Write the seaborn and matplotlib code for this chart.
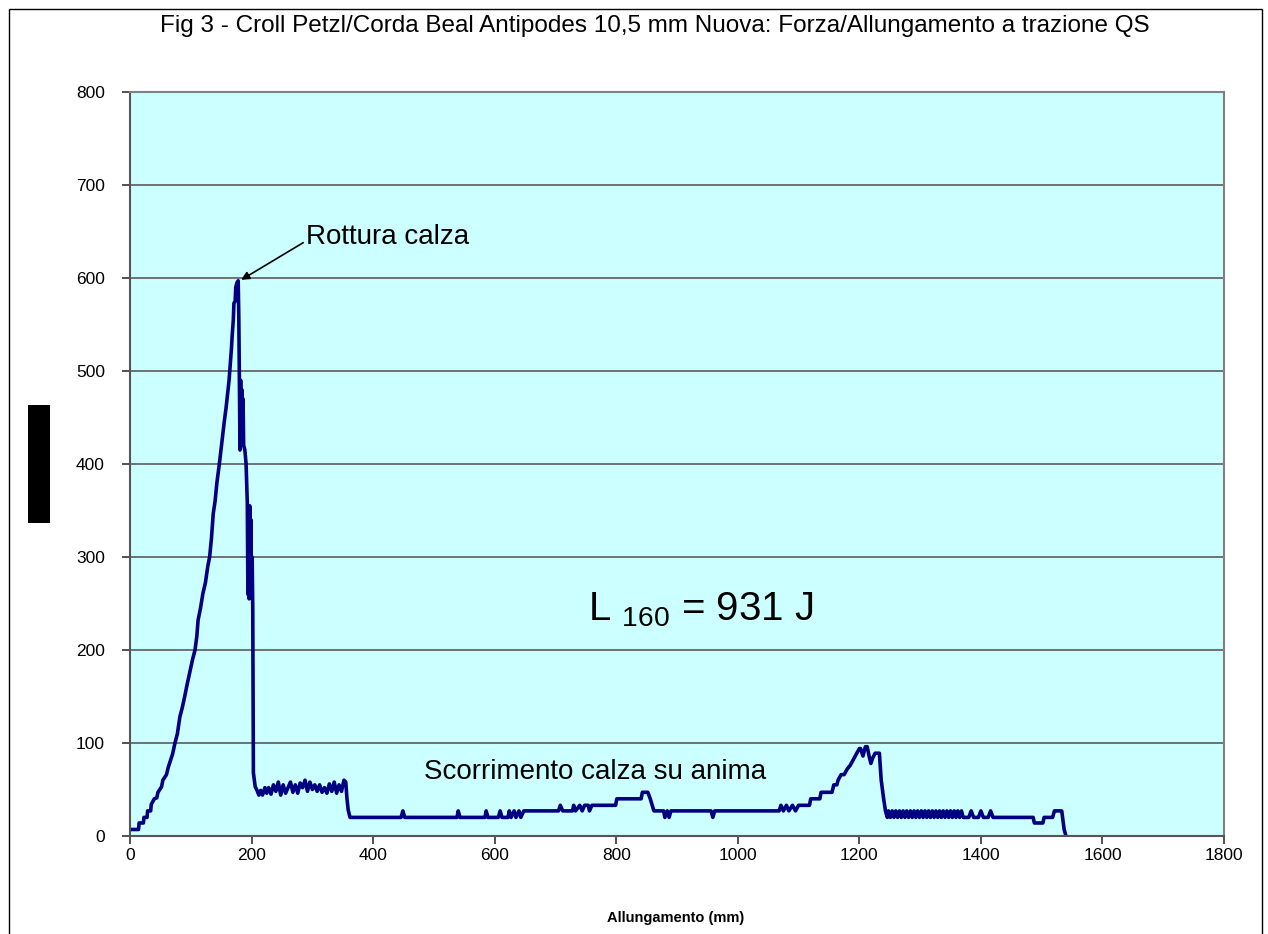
import matplotlib
matplotlib.use("Agg")
import matplotlib.pyplot as plt
import seaborn as sns
import pandas as pd
from matplotlib.patches import Rectangle

# ---- data: (allungamento mm, forza daN) ----
salita = [
    (0, 7), (14, 7), (15, 14), (22, 14), (23, 20), (28, 20), (29, 27), (34, 27), (35, 34),
    (40, 40), (44, 41), (46, 47), (52, 53), (54, 60), (60, 66), (63, 74), (66, 80),
    (70, 88), (74, 100), (78, 110), (82, 128), (86, 138), (90, 150), (94, 163), (99, 178),
    (103, 190), (107, 200), (110, 215), (112, 232), (116, 245), (120, 261), (124, 272),
    (128, 290), (131, 300), (134, 320), (137, 347), (140, 360), (143, 380), (147, 400),
    (151, 423), (155, 445), (158, 460), (160, 472), (163, 490), (165, 508), (167, 525),
    (168, 537), (170, 555), (171, 573), (173, 575), (174, 590), (176, 595), (178, 597),
]
caduta = [
    (179, 560), (180, 490), (181, 415), (182, 490), (183, 420), (184, 480), (185, 430),
    (186, 470), (187, 420), (189, 415), (191, 400), (193, 358), (194, 260), (195, 340),
    (196, 255), (197, 355), (198, 270), (199, 340), (200, 256), (201, 300), (202, 243),
    (203, 68), (206, 53),
]
attrito_1 = [
    (209, 49), (212, 44), (215, 49), (218, 44), (222, 52), (225, 46), (228, 52), (232, 45),
    (236, 55), (240, 48), (244, 58), (248, 44), (252, 55), (256, 46), (260, 52), (264, 58),
    (268, 47), (272, 55), (276, 46), (280, 57), (284, 52), (288, 60), (292, 48), (296, 58),
    (300, 50), (304, 55), (308, 48), (312, 55), (316, 47), (320, 52), (324, 46), (328, 56),
    (332, 48), (336, 58), (340, 46), (344, 55), (348, 48), (352, 60), (355, 58), (357, 40),
    (359, 28), (362, 20),
]
scorrimento = [
    (446, 20), (449, 27), (452, 20), (538, 20), (540, 27), (543, 20), (584, 20), (586, 27),
    (589, 20), (606, 20), (609, 27), (612, 20), (622, 20), (624, 27), (627, 20), (632, 27),
    (635, 20), (640, 27), (643, 20), (648, 27), (705, 27), (708, 33), (712, 27), (728, 27),
    (730, 33), (733, 27), (740, 33), (744, 27), (748, 33), (754, 33), (756, 27), (760, 33),
    (799, 33), (801, 40), (841, 40), (843, 47), (852, 47), (856, 40), (862, 27), (878, 27),
    (880, 20), (884, 27), (887, 20), (890, 27), (956, 27), (959, 20), (962, 27), (1068, 27),
    (1071, 33), (1075, 27), (1080, 33), (1084, 27), (1090, 33), (1095, 27), (1100, 33),
    (1118, 33), (1120, 40), (1135, 40), (1137, 47), (1155, 47), (1158, 55), (1163, 55),
    (1165, 60),
]
picco_finale = [
    (1170, 66), (1175, 66), (1180, 72), (1185, 76), (1190, 82), (1195, 88), (1200, 94),
    (1202, 94), (1206, 86), (1210, 96), (1213, 96), (1216, 86), (1219, 78), (1222, 84),
    (1226, 89), (1230, 89), (1233, 89), (1236, 60), (1240, 40), (1243, 27),
]
coda = [
    (1246, 20), (1248, 27), (1251, 20), (1254, 27), (1257, 20), (1260, 27), (1263, 20),
    (1266, 27), (1269, 20), (1272, 27), (1275, 20), (1278, 27), (1281, 20), (1284, 27),
    (1287, 20), (1290, 27), (1293, 20), (1296, 27), (1299, 20), (1302, 27), (1305, 20),
    (1308, 27), (1311, 20), (1314, 27), (1317, 20), (1320, 27), (1323, 20), (1326, 27),
    (1329, 20), (1332, 27), (1335, 20), (1338, 27), (1341, 20), (1344, 27), (1347, 20),
    (1350, 27), (1353, 20), (1356, 27), (1359, 20), (1362, 27), (1365, 20), (1368, 27),
    (1371, 20), (1380, 20), (1384, 27), (1388, 20), (1396, 20), (1400, 27), (1404, 20),
    (1412, 20), (1416, 27), (1420, 20),
    (1486, 20), (1488, 14), (1502, 14), (1504, 20), (1518, 20), (1521, 27), (1533, 27),
    (1537, 7), (1540, 0),
]

x_ticks = [0, 200, 400, 600, 800, 1000, 1200, 1400, 1600, 1800]
y_ticks = [0, 100, 200, 300, 400, 500, 600, 700, 800]

titolo = "Fig 3 - Croll Petzl/Corda Beal Antipodes 10,5 mm Nuova: Forza/Allungamento a trazione QS"
x_label = "Allungamento (mm)"
y_label = "Forza (daN)"
nota_picco = "Rottura calza"
nota_scorrimento = "Scorrimento calza su anima"
nota_energia = r"L $_{\mathregular{160}}$ = 931 J"

punti = salita + caduta + attrito_1 + scorrimento + picco_finale + coda
df = pd.DataFrame(punti, columns=["x", "y"])

sns.set_theme(style="white")
plt.rcParams["font.family"] = ["Liberation Sans", "DejaVu Sans"]
plt.rcParams["mathtext.fontset"] = "custom"
plt.rcParams["mathtext.rm"] = "Liberation Sans"

W, H = 1268, 934
fig = plt.figure(figsize=(W / 100, H / 100), dpi=100)
fig.patch.set_facecolor("white")

# outer chart border
fig.patches.append(Rectangle((9 / W, -0.02), (1262 - 9) / W, 1 - 9 / H + 0.02,
                             transform=fig.transFigure, fill=False,
                             edgecolor="black", linewidth=1.0))

L, R, T, B = 130, 1224, 92, 836
ax = fig.add_axes([L / W, 1 - B / H, (R - L) / W, (B - T) / H])
ax.set_facecolor("#CCFFFF")

sns.lineplot(data=df, x="x", y="y", ax=ax, sort=False, estimator=None,
             color="#000080", linewidth=2.6)

ax.set_xlim(0, 1800)
ax.set_ylim(0, 800)
ax.set_xticks(x_ticks)
ax.set_yticks(y_ticks)
ax.grid(axis="y", color="#6E7373", linewidth=1.4)
ax.grid(axis="x", visible=False)
ax.set_axisbelow(True)
for s in ax.spines.values():
    s.set_color("#808080")
    s.set_linewidth(1.5)
ax.spines["left"].set_color("#555555")
ax.spines["bottom"].set_color("#555555")
ax.tick_params(axis="both", which="major", direction="out", length=6, width=1.2,
               color="#333333", labelsize=12.5, labelcolor="black",
               left=True, bottom=True)
ax.tick_params(axis="y", pad=12)
ax.tick_params(axis="x", pad=3)
ax.set_xlabel("")
ax.set_ylabel("")

fig.text(655 / W, 1 - 26 / H, titolo, ha="center", va="center", fontsize=17.5, color="black")
fig.text(676 / W, 1 - 918 / H, x_label, ha="center", va="center", fontsize=10.5,
         fontweight="bold", color="black")

# y label (appears blacked out in the reference)
fig.patches.append(Rectangle((28 / W, 1 - 523 / H), 22 / W, 118 / H,
                             transform=fig.transFigure, facecolor="black", edgecolor="none"))
fig.text(39 / W, 1 - 464 / H, y_label, rotation=90, ha="center", va="center",
         fontsize=11, fontweight="bold", color="black")

ax.text(290, 644, nota_picco, fontsize=20, va="center", ha="left", color="black")
ax.annotate("", xy=(183, 598), xytext=(285, 638),
            arrowprops=dict(arrowstyle="-|>", color="black", lw=1.2,
                            mutation_scale=12, shrinkA=0, shrinkB=0))
ax.text(483, 69, nota_scorrimento, fontsize=20, va="center", ha="left", color="black")
ax.text(753, 243, nota_energia, fontsize=29, va="center", ha="left", color="black")

fig.savefig("out.png", dpi=100)
